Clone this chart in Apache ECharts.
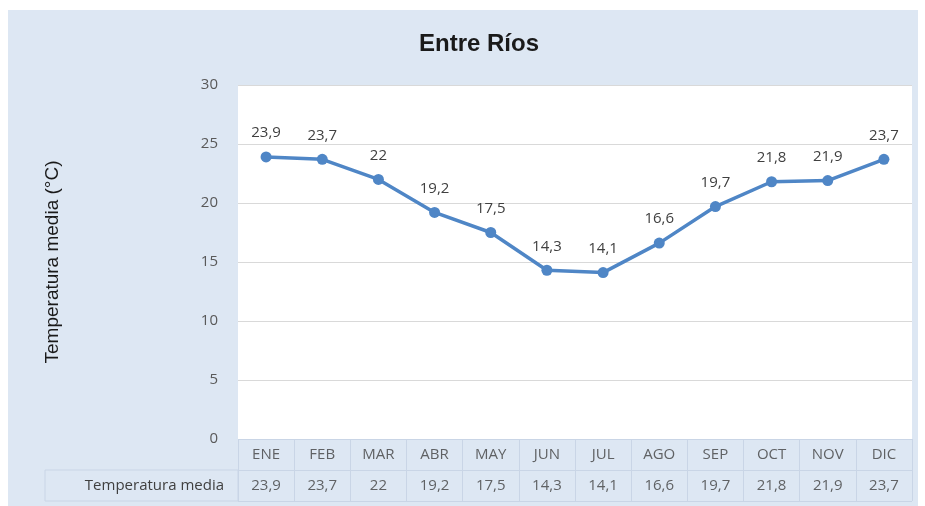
<!DOCTYPE html>
<html>
<head>
<meta charset="utf-8">
<script src="https://cdn.jsdelivr.net/npm/echarts@6/dist/echarts.min.js"></script>
<style>
html,body{margin:0;padding:0;background:#fff;}
#bg{position:absolute;left:8px;top:10px;width:910px;height:496px;background:#dde7f3;}
#chart{position:absolute;left:0;top:0;width:925px;height:506px;}
</style>
</head>
<body>
<div id="bg"></div>
<div id="chart"></div>
<script>
const months = ['ENE','FEB','MAR','ABR','MAY','JUN','JUL','AGO','SEP','OCT','NOV','DIC'];
const temps = [23.9, 23.7, 22, 19.2, 17.5, 14.3, 14.1, 16.6, 19.7, 21.8, 21.9, 23.7];
const seriesName = 'Temperatura media';
const yTicks = [0, 5, 10, 15, 20, 25, 30];

const fmt = v => String(v).replace('.', ',');
const labelFont = '"Open Sans", Lato, sans-serif';
const tableLine = '#c9d5e6';

const chart = echarts.init(document.getElementById('chart'), null, {renderer: 'canvas'});
chart.setOption({
  backgroundColor: 'transparent',
  animation: false,
  title: {
    text: 'Entre Ríos',
    left: 474, textAlign: 'center', top: 27,
    textStyle: {fontFamily: '"Liberation Sans", Arial, sans-serif', fontWeight: 'bold', fontSize: 24, color: '#1a1a1a'}
  },
  grid: [
    {left: 238, right: 13, top: 85, height: 354, show: true, backgroundColor: '#ffffff', borderWidth: 0},
    {left: 238, right: 13, top: 439, height: 62, show: false}
  ],
  xAxis: [
    {type: 'category', gridIndex: 0, data: months, boundaryGap: true,
     axisLine: {show: false}, axisTick: {show: false}, axisLabel: {show: false}},
    {type: 'category', gridIndex: 1, data: months, boundaryGap: true,
     axisLine: {show: false}, axisTick: {show: false}, axisLabel: {show: false},
     splitLine: {show: true, lineStyle: {color: tableLine, width: 1}}}
  ],
  yAxis: [
    {type: 'value', gridIndex: 0, min: yTicks[0], max: yTicks[yTicks.length - 1], interval: 5,
     name: 'Temperatura media (°C)', nameLocation: 'middle', nameGap: 176, nameRotate: 90,
     nameTextStyle: {fontFamily: '"Liberation Sans", Arial, sans-serif', fontSize: 19, color: '#1a1a1a'},
     axisLine: {show: false}, axisTick: {show: false},
     axisLabel: {margin: 20, fontSize: 15, color: '#595959', fontFamily: labelFont},
     splitLine: {show: true, lineStyle: {color: '#d9d9d9', width: 1}}},
    {type: 'category', gridIndex: 1, data: [seriesName, 'cat'],
     axisLine: {show: false}, axisTick: {show: false},
     axisLabel: {margin: 14, fontSize: 15, color: '#404040', fontFamily: labelFont,
                 formatter: v => v === seriesName ? v : ''},
     splitLine: {show: true, lineStyle: {color: tableLine, width: 1}}}
  ],
  graphic: [
    {type: 'rect', shape: {x: 45, y: 470, width: 193, height: 31}, style: {fill: 'none', stroke: tableLine, lineWidth: 1}, silent: true}
  ],
  series: [
    {
      name: seriesName, type: 'line', xAxisIndex: 0, yAxisIndex: 0,
      data: temps,
      symbol: 'circle', symbolSize: 11,
      lineStyle: {color: '#4f86c6', width: 3.5},
      itemStyle: {color: '#4f86c6'},
      label: {show: true, position: 'top', distance: 11, fontSize: 15, color: '#404040', fontFamily: labelFont,
              formatter: p => fmt(p.value)}
    },
    {
      type: 'scatter', xAxisIndex: 1, yAxisIndex: 1, symbolSize: 1, itemStyle: {color: 'rgba(0,0,0,0)'},
      data: months.map(m => [m, 'cat']),
      label: {show: true, position: 'inside', fontSize: 15, color: '#404040', fontFamily: labelFont,
              formatter: p => p.value[0]}
    },
    {
      type: 'scatter', xAxisIndex: 1, yAxisIndex: 1, symbolSize: 1, itemStyle: {color: 'rgba(0,0,0,0)'},
      data: months.map((m, i) => [m, seriesName, temps[i]]),
      label: {show: true, position: 'inside', fontSize: 15, color: '#404040', fontFamily: labelFont,
              formatter: p => fmt(p.value[2])}
    }
  ]
});
</script>
</body>
</html>
